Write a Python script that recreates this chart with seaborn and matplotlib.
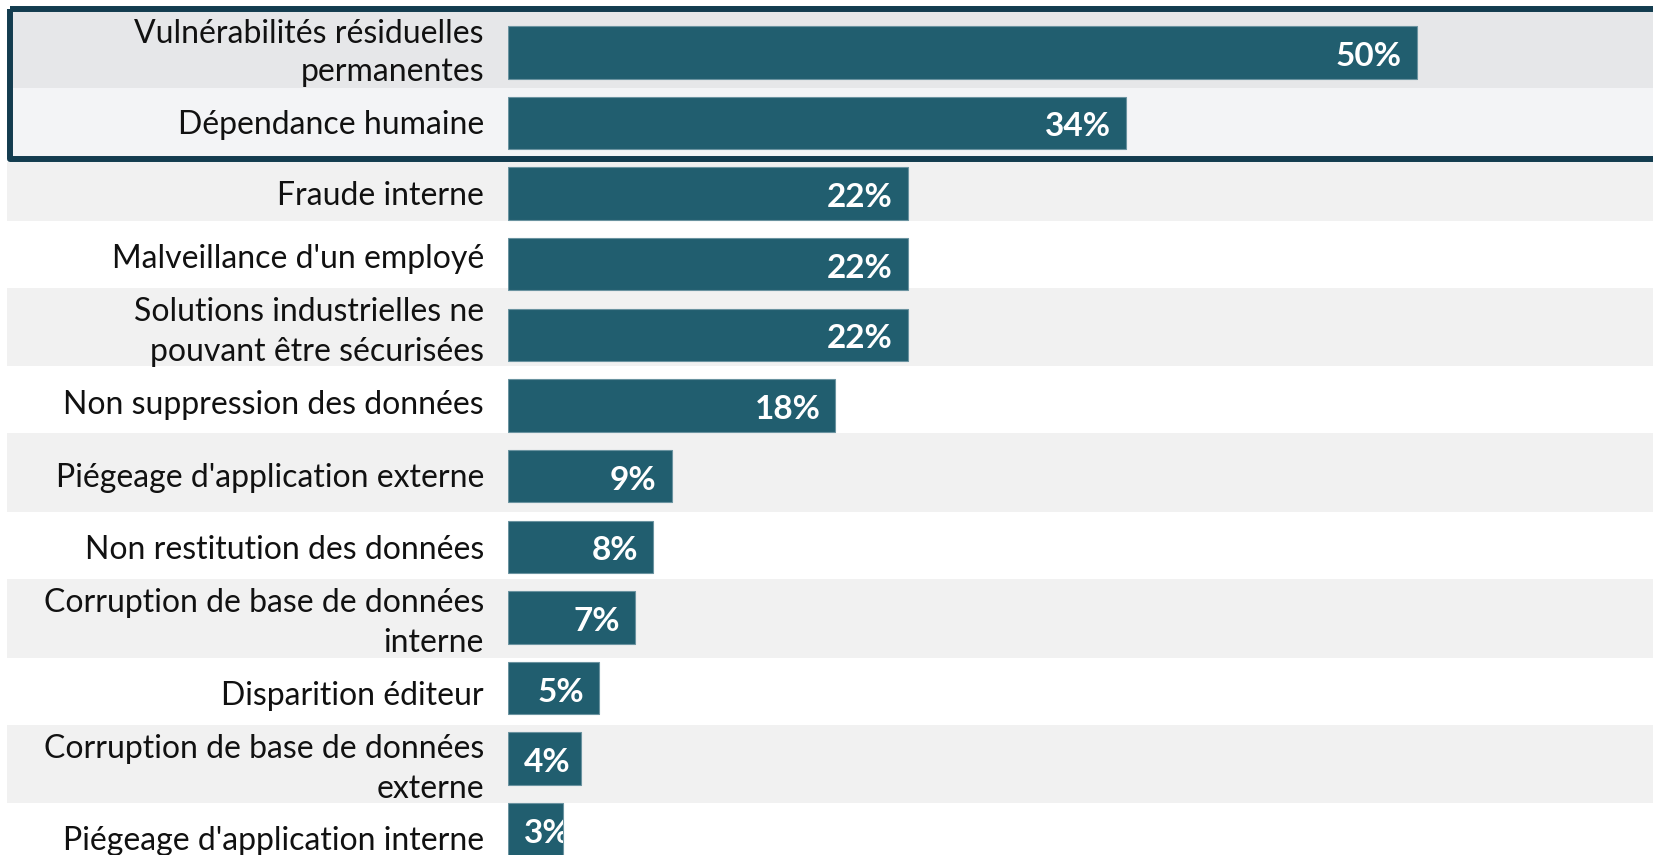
import matplotlib
matplotlib.use("Agg")
import matplotlib.pyplot as plt
import matplotlib.transforms as mtransforms
from matplotlib.patches import Rectangle
import seaborn as sns
import pandas as pd

# Risk categories and share of respondents (%)
risks = [
    "Vulnérabilités résiduelles\npermanentes",
    "Dépendance humaine",
    "Fraude interne",
    "Malveillance d'un employé",
    "Solutions industrielles ne\npouvant être sécurisées",
    "Non suppression des données",
    "Piégeage d'application externe",
    "Non restitution des données",
    "Corruption de base de données\ninterne",
    "Disparition éditeur",
    "Corruption de base de données\nexterne",
    "Piégeage d'application interne",
]
shares = [50, 34, 22, 22, 22, 18, 9, 8, 7, 5, 4, 3]
highlighted = 2  # number of top rows framed together

BAR = "#215e6f"
BAR_EDGE = "#6a93a0"
FRAME = "#133c4f"
BAND = "#f1f1f1"
TOP_BG = ["#e6e7e9", "#f3f4f6"]

df = pd.DataFrame({"risk": risks, "share": shares})

sns.set_theme(style="white")
plt.rcParams["font.family"] = ["Lato", "DejaVu Sans"]

W, H, DPI = 1653, 855, 100
fig = plt.figure(figsize=(W / DPI, H / DPI), dpi=DPI, facecolor="white")

# layout in pixels
x0_px = 508            # where the value axis starts
px_per_unit = 18.18    # pixels per percentage point
row_px = 70.64         # bar pitch
first_center_px = 52.3 # centre of the first bar
band_px = 72.75        # pitch of the background stripes / label rows
band_top0 = -3.0
band_h = 78.5
box_rows = [(12, 88), (88, 157)]
box_bottom = 162

ax = fig.add_axes([x0_px / W, 0, 1 - x0_px / W, 1])
ax.set_facecolor("none")

sns.barplot(data=df, x="share", y="risk", orient="h", color=BAR, saturation=1,
            width=0.743, edgecolor=BAR_EDGE, linewidth=0.8, ax=ax, zorder=2)

ax.set_xlim(0, (W - x0_px) / px_per_unit)
ax.set_ylim((H - first_center_px) / row_px, -first_center_px / row_px)


def py(px):
    """pixel row -> data y"""
    return (px - first_center_px) / row_px


def stripe(i):
    """pixel extent of the background stripe of row i"""
    top = band_top0 + band_px * i
    return max(top, box_bottom), top + band_h


left_frac = (7 - x0_px) / (W - x0_px)

# alternating background stripes below the framed block
for i in range(highlighted, len(risks)):
    if i % 2 == 0:
        top, bot = stripe(i)
        ax.axhspan(py(top), py(bot), xmin=left_frac, xmax=1.0,
                   color=BAND, zorder=0, clip_on=False, lw=0)

# framed top block
for (t, b), col in zip(box_rows, TOP_BG):
    ax.axhspan(py(t), py(b), xmin=left_frac, xmax=1.0, color=col,
               zorder=0, clip_on=False, lw=0)

frame_left = (10.5 - x0_px) / (W - x0_px)
frame = Rectangle((frame_left, py(9)), 1.2 - frame_left, py(159) - py(9),
                  transform=ax.get_yaxis_transform(), fill=False,
                  ec=FRAME, lw=4.3, joinstyle="round", clip_on=False, zorder=3)
ax.add_patch(frame)

# value labels inside the bars
bars = ax.containers[0]
for i, (v, patch) in enumerate(zip(shares, bars.patches)):
    if v < 5:
        t = ax.annotate(f"{v}%", xy=(0, i), xytext=(11.5, -2.9),
                        textcoords="offset points", ha="left", va="center",
                        color="white", fontsize=24, fontweight="bold", zorder=4)
    else:
        t = ax.annotate(f"{v}%", xy=(v, i), xytext=(-10.8, -2.9),
                        textcoords="offset points", ha="right", va="center",
                        color="white", fontsize=24, fontweight="bold", zorder=4)
    t.set_clip_path(patch)

ax.set_xlabel("")
ax.set_ylabel("")
ax.set_xticks([])
ax.tick_params(axis="y", length=0, pad=17.3, labelsize=23, labelcolor="#111111")

# category labels sit centred in their background row
for i, lbl in enumerate(ax.get_yticklabels()):
    if i < highlighted:
        target = sum(box_rows[i]) / 2
        lbl.set_linespacing(1.3)
    else:
        top, bot = stripe(i)
        target = (top + bot) / 2 + 2.0
        lbl.set_linespacing(1.42)
    bar_c = first_center_px + row_px * i
    shift_px = (target - bar_c) + 2.9
    lbl.set_verticalalignment("center")
    lbl.set_transform(lbl.get_transform() +
                      mtransforms.ScaledTranslation(0, -shift_px / DPI,
                                                    fig.dpi_scale_trans))

for s in ax.spines.values():
    s.set_visible(False)

fig.savefig("out.png", dpi=DPI, facecolor="white")
